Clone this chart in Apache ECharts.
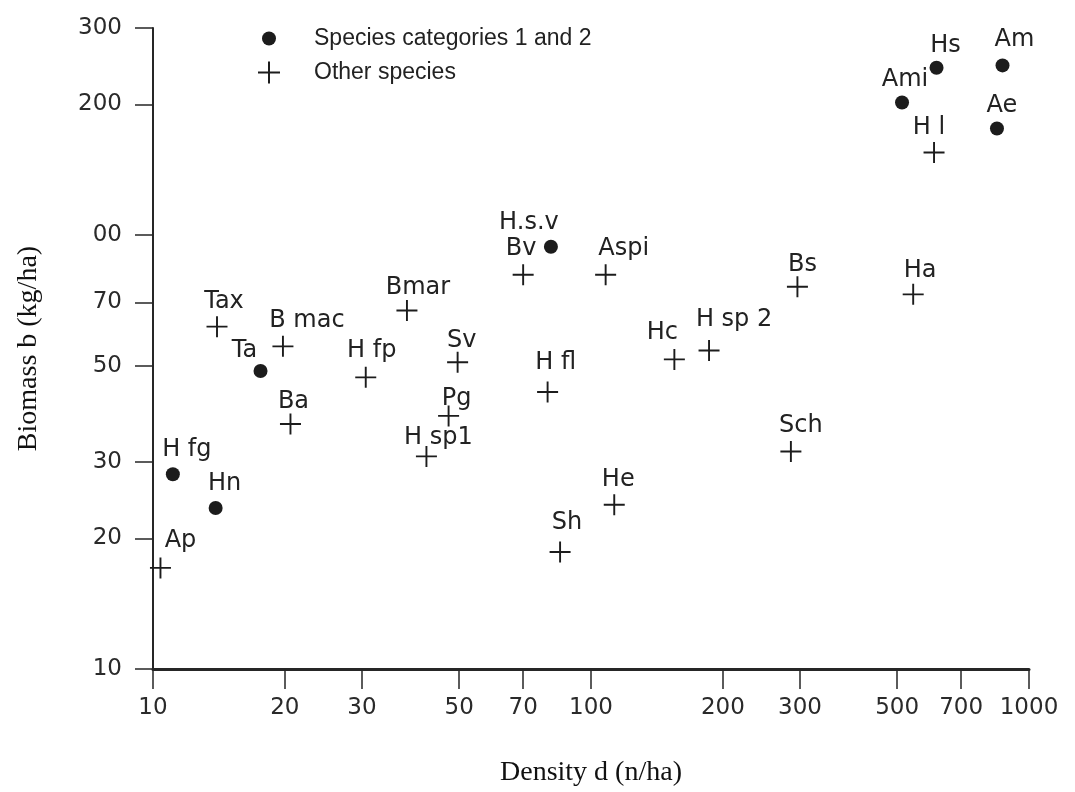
<!DOCTYPE html>
<html>
<head>
<meta charset="utf-8">
<title>Biomass vs density</title>
<script src="https://cdn.jsdelivr.net/npm/echarts@6/dist/echarts.min.js"></script>
<style>
  html, body { margin: 0; padding: 0; background: #ffffff; }
  #chart { width: 1075px; height: 792px; }
</style>
</head>
<body>
<div id="chart"></div>
<script>
// Species in categories 1 and 2 (filled dots)
const catNames   = ['Hs', 'Am', 'Ami', 'Ae', 'H.s.v', 'Ta', 'H fg', 'Hn'];
const catDensity = [615, 870, 513, 845, 81, 17.6, 11.1, 13.9];
const catBiomass = [243, 246, 202, 176, 94, 48.6, 28.1, 23.5];

// Other species (crosses)
const otherNames   = ['H l', 'Bv', 'Aspi', 'Bs', 'Ha', 'Bmar', 'Tax', 'B mac', 'H sp 2', 'Hc',
                      'Sv', 'H fp', 'H fl', 'Pg', 'Ba', 'Sch', 'H sp1', 'He', 'Sh', 'Ap'];
const otherDensity = [607, 70, 108, 296, 544, 38, 14, 19.8, 186, 155,
                      49.6, 30.6, 79.6, 47.3, 20.6, 286, 42.1, 113, 85, 10.4];
const otherBiomass = [155, 81, 81, 76, 73, 67, 61.5, 55.4, 54.2, 51.7,
                      50.9, 47, 43.5, 38.3, 36.7, 31.7, 30.9, 23.9, 18.6, 17.1];

// Axis ticks
const xTickValues = [10, 20, 30, 50, 70, 100, 200, 300, 500, 700, 1000];
const xTickLabels = ['10', '20', '30', '50', '70', '100', '200', '300', '500', '700', '1000'];
const yTickValues = [10, 20, 30, 50, 70, 100, 200, 300];
const yTickLabels = ['10', '20', '30', '50', '70', '00', '200', '300'];

const seriesNames = ['Species categories 1 and 2', 'Other species'];

// Where each name tag sits relative to its mark (px)
const tagShift = {
  'Hs': [9, -22], 'Am': [12, -26], 'Ami': [3, -23], 'Ae': [5, -23], 'H l': [-5, -25],
  'H.s.v': [-22, -24], 'Bv': [-2, -26], 'Aspi': [18, -26], 'Tax': [7, -25], 'B mac': [24, -26],
  'Ta': [-16, -20], 'H fp': [6, -27], 'Ba': [3, -22], 'Bmar': [11, -23], 'Sv': [4, -22],
  'Pg': [8, -17], 'H sp1': [12, -19], 'H fl': [8, -29], 'Bs': [5, -22], 'Ha': [7, -24],
  'H sp 2': [25, -31], 'Hc': [-12, -27], 'Sch': [10, -26], 'H fg': [14, -25], 'Hn': [9, -24],
  'Ap': [20, -27], 'He': [4, -25], 'Sh': [7, -29]
};

const INK = '#1c1c1c';
const CROSS = 'path://M0,10H22V12H0Z M10,0H12V22H10Z';
const DOT_ICON = 'path://M0,0 M22,22 M4,11 a7,7 0 1,0 14,0 a7,7 0 1,0 -14,0 Z';

function buildPoints(names, xs, ys) {
  return names.map(function (n, i) {
    return {
      name: n,
      value: [xs[i], ys[i]],
      label: { offset: tagShift[n] || [6, -24] }
    };
  });
}

function tickFormatter(values, labels) {
  return function (v) {
    for (let i = 0; i < values.length; i++) {
      if (Math.abs(values[i] - v) < 1e-6 * values[i]) return labels[i];
    }
    return '';
  };
}

const tagLabel = {
  show: true,
  position: 'inside',
  formatter: '{b}',
  color: '#222',
  fontFamily: 'DejaVu Sans',
  fontSize: 24
};

const chart = echarts.init(document.getElementById('chart'), null, { renderer: 'canvas' });

chart.setOption({
  backgroundColor: '#ffffff',
  animation: false,
  grid: { left: 153, right: 46, top: 28, bottom: 122, containLabel: false },
  legend: {
    orient: 'vertical',
    left: 253,
    top: 22,
    itemWidth: 80,
    itemHeight: 22,
    itemGap: 11,
    selectedMode: false,
    textStyle: { fontFamily: 'Liberation Sans', fontSize: 23, color: '#222' },
    data: [
      { name: seriesNames[0], icon: DOT_ICON },
      { name: seriesNames[1], icon: CROSS }
    ]
  },
  xAxis: {
    type: 'log',
    logBase: 10,
    min: 10,
    max: 1000,
    name: 'Density d (n/ha)',
    nameLocation: 'middle',
    nameGap: 90,
    nameTextStyle: { fontFamily: 'Liberation Serif', fontSize: 28, color: '#111' },
    axisLine: { lineStyle: { color: '#262626', width: 3 } },
    axisTick: {
      customValues: xTickValues,
      length: 20,
      lineStyle: { color: '#262626', width: 1.5 }
    },
    axisLabel: {
      customValues: xTickValues,
      formatter: tickFormatter(xTickValues, xTickLabels),
      margin: 28,
      fontFamily: 'DejaVu Sans',
      fontSize: 23,
      color: '#2a2a2a'
    },
    splitLine: { show: false },
    minorTick: { show: false }
  },
  yAxis: {
    type: 'log',
    logBase: 10,
    min: 10,
    max: 300,
    name: 'Biomass b (kg/ha)',
    nameLocation: 'middle',
    nameRotate: 90,
    nameGap: 110,
    nameTextStyle: { fontFamily: 'Liberation Serif', fontSize: 28, color: '#111' },
    axisLine: { lineStyle: { color: '#262626', width: 2 } },
    axisTick: {
      customValues: yTickValues,
      length: 18,
      lineStyle: { color: '#262626', width: 1.5 }
    },
    axisLabel: {
      customValues: yTickValues,
      formatter: tickFormatter(yTickValues, yTickLabels),
      margin: 31,
      fontFamily: 'DejaVu Sans',
      fontSize: 23,
      color: '#2a2a2a'
    },
    splitLine: { show: false },
    minorTick: { show: false }
  },
  series: [
    {
      name: seriesNames[0],
      type: 'scatter',
      symbol: 'circle',
      symbolSize: 14,
      clip: false,
      itemStyle: { color: INK, opacity: 1 },
      label: tagLabel,
      data: buildPoints(catNames, catDensity, catBiomass)
    },
    {
      name: seriesNames[1],
      type: 'scatter',
      symbol: CROSS,
      symbolSize: 21,
      symbolKeepAspect: true,
      clip: false,
      itemStyle: { color: INK, opacity: 1 },
      label: tagLabel,
      data: buildPoints(otherNames, otherDensity, otherBiomass)
    }
  ]
});
</script>
</body>
</html>
